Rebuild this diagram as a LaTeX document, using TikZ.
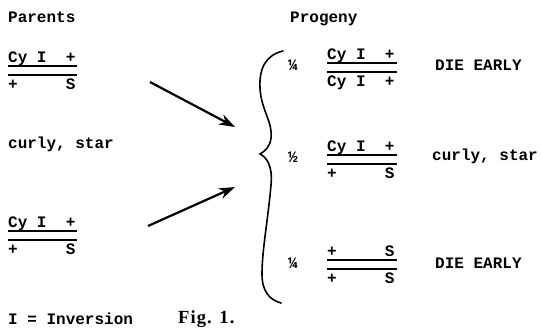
\documentclass[tikz,border=0pt]{standalone}
\usepackage{fontspec}
\newfontfamily\tw{Liberation Mono}
\newfontfamily\figfont[LetterSpace=6]{Liberation Serif}
\usetikzlibrary{arrows.meta}
\tikzset{
  tw/.style={font=\tw\bfseries\fontsize{16}{16}\selectfont, inner sep=0pt},
  lbl/.style={tw, anchor=base west},
  frac/.style={tw, anchor=center},
  ul/.style={line width=1.3pt},
  barline/.style={line width=1.8pt},
  arr/.style={line width=2.2pt, -{Stealth[length=16pt,width=11pt]}},
  bracestyle/.style={line width=1.6pt, line cap=round},
  figlabel/.style={font=\figfont\bfseries\fontsize{18.5}{18.5}\selectfont, inner sep=0pt, anchor=base west}
}
\newcommand\geno[6]{%
  \node[lbl] (#1t) at (#2,#3) {#4};
  \node[lbl] (#1b) at (#2,#3+27) {#5};
  \draw[ul] (#2,#3+3) -- ++(#6,0);
  \draw[barline] (#2,#3+12) -- ++(#6,0);
}
\begin{document}
\begin{tikzpicture}[x=1pt,y=-1pt]
\useasboundingbox (0,0) rectangle (541,328);
% headings
\node[lbl] (parents) at (8,23) {Parents};
\node[lbl] (progeny) at (290,23) {Progeny};
% parents
\geno{pa}{8}{63}{Cy~I~~+}{+~~~~~S}{69}
\node[lbl] (pheno) at (8,149) {curly, star};
\geno{pb}{8}{228}{Cy~I~~+}{+~~~~~S}{69}
\node[lbl] (legend) at (8,325) {I = Inversion};
\node[figlabel] (fig) at (178,324) {Fig. 1.};
% arrows
\coordinate (a1s) at (150,82);
\coordinate (a1e) at (235,127);
\coordinate (a2s) at (148,226);
\coordinate (a2e) at (235,187);
\draw[arr] (a1s) -- (a1e);
\draw[arr] (a2s) -- (a2e);
% brace
\draw[bracestyle] (283,51) .. controls (266,55) and (259,68) .. (260,88)
  .. controls (261,110) and (273,122) .. (271,138)
  .. controls (270,147) and (265,151) .. (260,154)
  .. controls (266,157) and (273,165) .. (271,185)
  .. controls (268,220) and (262,250) .. (262,274)
  .. controls (262,292) and (270,300) .. (281,303);
% progeny
\node[frac] (q1) at (293,65) {¼};
\geno{ra}{327}{60}{Cy~I~~+}{Cy~I~~+}{70}
\node[lbl] (r1) at (435,71) {DIE EARLY};
\node[frac] (q2) at (293,157) {½};
\geno{rb}{327}{152}{Cy~I~~+}{+~~~~~S}{70}
\node[lbl] (r2) at (432,161) {curly, star};
\node[frac] (q3) at (293,263) {¼};
\geno{rc}{327}{257}{+~~~~~S}{+~~~~~S}{70}
\node[lbl] (r3) at (435,269) {DIE EARLY};
\end{tikzpicture}
\end{document}
